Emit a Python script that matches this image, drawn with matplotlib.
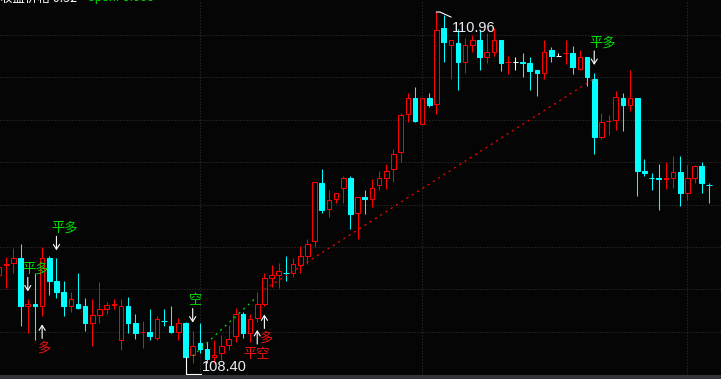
import numpy as np
import matplotlib.pyplot as plt
from matplotlib.patches import Rectangle

plt.rcParams['font.family'] = ['Noto Sans CJK SC', 'DejaVu Sans']
plt.rcParams['lines.scale_dashes'] = False

# 行情数据 (开, 高, 低, 收)
opens = [109.10, 109.17, 109.19, 109.22, 108.88, 108.90, 108.88, 109.22, 109.06, 108.98,
         108.88, 108.90, 108.88, 108.76, 108.82, 108.86, 108.89, 108.64, 108.88, 108.76,
         108.70, 108.70, 108.66, 108.78, 108.74, 108.70, 108.76, 108.54, 108.62, 108.58,
         108.52, 108.55, 108.61, 108.67, 108.83, 108.69, 108.80, 108.90, 109.08, 109.10,
         109.12, 109.12, 109.17, 109.24, 109.34, 109.75, 109.57, 109.64, 109.72, 109.79,
         109.54, 109.65, 109.64, 109.74, 109.79, 109.85, 109.97, 110.24, 110.35, 110.17,
         110.35, 110.31, 110.85, 110.73, 110.74, 110.61, 110.73, 110.76, 110.64, 110.68,
         110.76, 110.61, 110.61, 110.61, 110.60, 110.55, 110.53, 110.69, 110.65, 110.67,
         110.67, 110.56, 110.64, 110.49, 110.08, 110.19, 110.20, 110.35, 110.30, 110.35,
         109.84, 109.79, 109.79, 109.78, 109.79, 109.83, 109.68, 109.79, 109.87, 109.74]
highs = [109.19, 109.23, 109.29, 109.32, 108.93, 109.12, 109.30, 109.24, 109.22, 109.06,
         108.98, 109.12, 108.94, 108.93, 109.05, 108.91, 108.93, 108.93, 108.95, 108.83,
         108.78, 108.86, 108.81, 108.86, 108.88, 108.80, 108.77, 108.71, 108.76, 108.63,
         108.64, 108.68, 108.75, 108.87, 108.84, 108.83, 108.98, 109.12, 109.17, 109.19,
         109.24, 109.22, 109.31, 109.36, 109.76, 109.85, 109.70, 109.68, 109.80, 109.80,
         109.65, 109.70, 109.78, 109.84, 109.89, 109.99, 110.25, 110.39, 110.43, 110.35,
         110.39, 110.96, 110.94, 110.76, 110.84, 110.78, 110.80, 110.83, 110.81, 110.85,
         110.76, 110.65, 110.64, 110.67, 110.64, 110.55, 110.76, 110.71, 110.67, 110.76,
         110.72, 110.69, 110.64, 110.53, 110.25, 110.23, 110.40, 110.39, 110.55, 110.35,
         109.92, 109.82, 109.89, 109.90, 109.94, 109.94, 109.88, 109.88, 109.90, 109.75]
lows = [109.07, 109.01, 109.12, 108.74, 108.69, 108.64, 108.81, 108.96, 108.94, 108.81,
        108.84, 108.86, 108.71, 108.60, 108.76, 108.83, 108.86, 108.57, 108.69, 108.65,
        108.59, 108.64, 108.64, 108.74, 108.69, 108.64, 108.40, 108.48, 108.55, 108.48,
        108.48, 108.50, 108.57, 108.63, 108.66, 108.63, 108.77, 108.88, 109.02, 109.01,
        109.06, 109.09, 109.12, 109.18, 109.30, 109.54, 109.51, 109.61, 109.61, 109.43,
        109.36, 109.53, 109.58, 109.70, 109.71, 109.76, 109.90, 110.18, 110.18, 110.17,
        110.29, 110.24, 110.61, 110.49, 110.41, 110.53, 110.68, 110.55, 110.60, 110.65,
        110.54, 110.52, 110.55, 110.50, 110.41, 110.37, 110.49, 110.61, 110.65, 110.59,
        110.52, 110.55, 110.44, 109.96, 110.06, 110.09, 110.13, 110.12, 110.26, 109.66,
        109.80, 109.70, 109.56, 109.71, 109.72, 109.59, 109.63, 109.75, 109.68, 109.61]
closes = [109.16, 109.18, 109.22, 108.88, 108.90, 108.88, 109.22, 109.06, 108.98, 108.88,
          108.93, 108.87, 108.76, 108.82, 108.86, 108.89, 108.90, 108.88, 108.76, 108.69,
          108.70, 108.67, 108.79, 108.78, 108.70, 108.76, 108.52, 108.60, 108.58, 108.51,
          108.54, 108.60, 108.65, 108.83, 108.69, 108.79, 108.90, 109.08, 109.10, 109.13,
          109.12, 109.18, 109.24, 109.32, 109.76, 109.56, 109.63, 109.68, 109.79, 109.53,
          109.65, 109.64, 109.72, 109.79, 109.84, 109.96, 110.23, 110.35, 110.19, 110.35,
          110.30, 110.83, 110.75, 110.76, 110.61, 110.73, 110.76, 110.64, 110.68, 110.76,
          110.60, 110.61, 110.61, 110.60, 110.54, 110.53, 110.68, 110.65, 110.65, 110.67,
          110.57, 110.64, 110.50, 110.08, 110.18, 110.19, 110.36, 110.30, 110.35, 109.84,
          109.82, 109.79, 109.78, 109.79, 109.83, 109.68, 109.79, 109.87, 109.75, 109.74]

# 交易日分隔 / 价格网格
day_breaks = [28, 59, 96]
grid_prices = [108.7, 109.0, 109.3, 109.6, 109.9, 110.2, 110.5, 110.8]

# 信号: (K线序号, 文字, 方向)
signals = [(4, '平多', 'down'), (8, '平多', 'down'), (6, '多', 'up'),
           (27, '空', 'down'), (36, '平空', 'up'), (37, '多', 'up'),
           (83, '平多', 'down')]
# 交易连线: (开仓序号, 开仓价, 平仓序号, 平仓价)
short_trade = (27, 108.53, 36, 108.95)
long_trade = (37, 109.00, 83, 110.49)

BG = '#050505'
UP = '#ff0000'
DN = '#00ffff'
GREEN = '#00dd00'
SIG_RED = '#ee1111'
GRID = '#383838'
LW = 0.75
BW = 0.64

W, H = 721, 379
fig = plt.figure(figsize=(W / 100, H / 100), dpi=100, facecolor=BG)
ax = fig.add_axes([0, 4 / H, 1, 375 / H])
ax.set_facecolor(BG)
ax.set_xlim(0.126, 100.68)
ax.set_ylim(108.396, 111.045)
for s in ax.spines.values():
    s.set_visible(False)
ax.set_xticks([])
ax.set_yticks([])

# 像素换算
px_x = (100.68 - 0.126) / W
px_y = (111.045 - 108.396) / 375

# 网格
for gp in grid_prices:
    ax.axhline(gp, color=GRID, lw=0.72, dashes=(0.72, 1.44), zorder=0)
for d in day_breaks:
    ax.axvline(d, color=GRID, lw=0.72, dashes=(0.72, 1.44), zorder=0)

# K线
for i in range(len(opens)):
    o, h, l, c = opens[i], highs[i], lows[i], closes[i]
    if c > o:
        col = UP
    elif c < o:
        col = DN
    else:
        prev = closes[i - 1] if i > 0 else c
        col = UP if c > prev else (DN if c < prev else 'white')
    top, bot = max(o, c), min(o, c)
    if c == o:
        ax.vlines(i, l, h, color=col, lw=LW, zorder=2)
        ax.hlines(o, i - BW / 2 - 0.07, i + BW / 2 + 0.07, color=col, lw=LW, zorder=2)
    elif c > o:
        ax.vlines(i, top, h, color=col, lw=LW, zorder=2)
        ax.vlines(i, l, bot, color=col, lw=LW, zorder=2)
        ax.add_patch(Rectangle((i - BW / 2, bot), BW, top - bot, facecolor=BG,
                               edgecolor=col, lw=LW, zorder=3))
    else:
        ax.vlines(i, l, h, color=col, lw=LW, zorder=2)
        ax.add_patch(Rectangle((i - BW / 2, bot), BW, top - bot, facecolor=col,
                               edgecolor=col, lw=LW, zorder=3))

# 交易连线
si, sp, ei, ep = short_trade
ax.plot([si, ei], [sp, ep], color=GREEN, lw=0.9, dashes=(1.5, 3.0), zorder=4)
si, sp, ei, ep = long_trade
ax.plot([si, ei], [sp, ep], color=UP, lw=0.9, dashes=(1.5, 3.0), zorder=4)

# 信号箭头与文字
text_dx = {'平多': -5, '空': -4, '多': -5, '平空': -14}
for i, label, way in signals:
    if way == 'down':
        base = highs[i]
        tip, tail, ty = base + 8 * px_y, base + 22 * px_y, base + 30 * px_y
    else:
        base = lows[i]
        tip, tail, ty = base - 8 * px_y, base - 22 * px_y, base - 32 * px_y
    ax.annotate('', xy=(i, tip), xytext=(i, tail),
                arrowprops=dict(arrowstyle='->,head_length=0.35,head_width=0.22',
                                color='white', lw=0.8, shrinkA=0, shrinkB=0),
                zorder=5)
    tcol = GREEN if label in ('平多', '空') else SIG_RED
    ax.text(i + text_dx[label] * px_x, ty, label, color=tcol, fontsize=9.5,
            ha='left', va='center', zorder=6)

# 最高 / 最低标注
i_hi = int(np.argmax(highs))
hi = highs[i_hi]
ax.plot([i_hi, i_hi + 3.5 * px_x, i_hi + 14.5 * px_x],
        [hi, hi, hi - 5 * px_y], color='white', lw=0.8, zorder=5)
ax.annotate(f'{hi:.2f}', xy=(i_hi, hi), xytext=(15.5, -20), textcoords='offset pixels',
            color='#ececf4', fontsize=10.5, family='Liberation Sans',
            ha='left', va='baseline', zorder=6)

i_lo = int(np.argmin(lows))
lo = lows[i_lo]
ax.plot([i_lo, i_lo, i_lo + 15 * px_x],
        [min(opens[i_lo], closes[i_lo]), lo, lo], color='white', lw=0.8, zorder=5)
ax.annotate(f'{lo:.2f}', xy=(i_lo, lo), xytext=(16, 3), textcoords='offset pixels',
            color='#ececf4', fontsize=10.5, family='Liberation Sans',
            ha='left', va='baseline', zorder=6)

# 顶部标题 (参考图中被上沿裁切)
fig.text(0, 1 - 1.5 / H, '收盘价格 0.52', color='white', fontsize=9, va='baseline')
fig.text(88 / W, 1 - 1.5 / H, 'open: 0.000', color=GREEN, fontsize=9,
         family='Liberation Sans', va='baseline')

# 底部分隔条
fig.patches.append(Rectangle((0, 0), 1, 4 / H, transform=fig.transFigure,
                             facecolor='#323438', edgecolor='none'))

plt.savefig('out.png', dpi=100, facecolor=BG)
